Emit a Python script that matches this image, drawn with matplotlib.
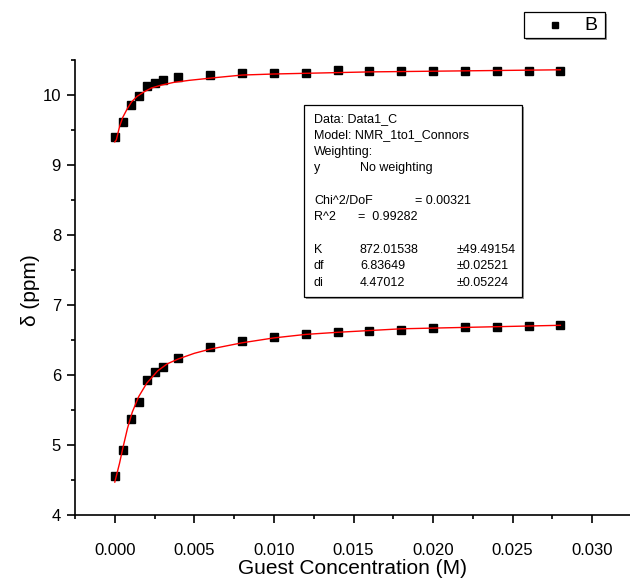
import matplotlib
matplotlib.use('Agg')
import matplotlib.pyplot as plt
from matplotlib.ticker import MultipleLocator, FormatStrFormatter
from matplotlib.patches import Rectangle
from matplotlib.lines import Line2D

plt.rcParams['font.family'] = ['Liberation Sans', 'DejaVu Sans']

# ---- data ----
conc = [0.0, 0.0005, 0.001, 0.0015, 0.002, 0.0025, 0.003, 0.004, 0.006, 0.008,
        0.010, 0.012, 0.014, 0.016, 0.018, 0.020, 0.022, 0.024, 0.026, 0.028]
shift_upper = [9.40, 9.61, 9.86, 9.98, 10.13, 10.17, 10.21, 10.26, 10.29, 10.31,
               10.32, 10.32, 10.36, 10.34, 10.34, 10.34, 10.34, 10.34, 10.35, 10.35]
shift_lower = [4.56, 4.93, 5.37, 5.62, 5.93, 6.04, 6.12, 6.24, 6.40, 6.48,
               6.54, 6.58, 6.61, 6.63, 6.65, 6.67, 6.68, 6.69, 6.70, 6.71]

# fitted curves
fit_x_upper = [0.0, 0.0001, 0.0003, 0.0005, 0.0008, 0.00105, 0.0014, 0.0018, 0.0023,
               0.0029, 0.0037, 0.0047, 0.0064, 0.008, 0.010, 0.012, 0.014, 0.016,
               0.020, 0.024, 0.028]
fit_y_upper = [9.33, 9.36, 9.55, 9.68, 9.81, 9.90, 9.98, 10.04, 10.10,
               10.14, 10.18, 10.21, 10.25, 10.285, 10.30, 10.31, 10.32, 10.33,
               10.34, 10.35, 10.36]
fit_x_lower = [0.0, 0.0003, 0.0005, 0.0008, 0.0011, 0.0015, 0.002, 0.0027, 0.0033,
               0.004, 0.005, 0.006, 0.008, 0.010, 0.012, 0.014, 0.018, 0.022, 0.028]
fit_y_lower = [4.47, 4.74, 4.95, 5.24, 5.47, 5.69, 5.88, 6.06, 6.16,
               6.23, 6.31, 6.37, 6.46, 6.53, 6.58, 6.61, 6.66, 6.68, 6.71]

x_ticks = [0.000, 0.005, 0.010, 0.015, 0.020, 0.025, 0.030]
y_ticks = [4, 5, 6, 7, 8, 9, 10]

box_lines = [
    ("Data: Data1_C", "", ""),
    ("Model: NMR_1to1_Connors", "", ""),
    ("Weighting:", "", ""),
    ("y", "No weighting", ""),
    ("", "", ""),
    ("Chi^2/DoF", "", "= 0.00321"),
    ("R^2", "=  0.99282", ""),
    ("", "", ""),
    ("K", "872.01538", "\u00b149.49154"),
    ("df", "6.83649", "\u00b10.02521"),
    ("di", "4.47012", "\u00b10.05224"),
]

W, H = 630, 582
fig = plt.figure(figsize=(W / 100, H / 100), dpi=100)

def fx(px):
    return px / W

def fy(py):
    return 1 - py / H

ax = fig.add_axes([fx(75), fy(515), (632 - 75) / W, (515 - 60) / H])
ax.set_xlim(-0.0025, 0.0325)
ax.set_ylim(4, 10.5)

ax.plot(conc, shift_upper, 's', color='black', ms=5.5, zorder=2)
ax.plot(conc, shift_lower, 's', color='black', ms=5.5, zorder=2)
ax.plot(fit_x_upper, fit_y_upper, '-', color='red', lw=1.0, zorder=3)
ax.plot(fit_x_lower, fit_y_lower, '-', color='red', lw=1.0, zorder=3)

for s in ['top', 'right']:
    ax.spines[s].set_visible(False)
for s in ['left', 'bottom']:
    ax.spines[s].set_linewidth(1.2)

ax.set_xticks(x_ticks)
ax.set_yticks(y_ticks)
ax.xaxis.set_major_formatter(FormatStrFormatter('%.3f'))
ax.xaxis.set_minor_locator(MultipleLocator(0.0025))
ax.yaxis.set_minor_locator(MultipleLocator(0.5))
ax.tick_params(which='major', direction='out', length=6, width=1.2, labelsize=12)
ax.tick_params(which='minor', direction='out', length=3, width=1.2)
ax.tick_params(axis='x', which='major', pad=14)
ax.tick_params(axis='y', which='major', pad=4)

fig.text(fx(353), fy(568), "Guest Concentration (M)", ha='center', va='center', fontsize=15)
fig.text(fx(30), fy(290), "\u03b4 (ppm)", ha='center', va='center', fontsize=15, rotation=90)

# fit results box
fig.patches.append(Rectangle((fx(306), fy(299)), (522 - 304) / W, (297 - 105) / H,
                             transform=fig.transFigure, facecolor='#999999',
                             edgecolor='none', zorder=4))
fig.patches.append(Rectangle((fx(304), fy(297)), (522 - 304) / W, (297 - 105) / H,
                             transform=fig.transFigure, facecolor='white',
                             edgecolor='black', lw=0.9, zorder=5))
line_y = [119, 135.5, 152, 168, 184.5, 201, 217, 233.5, 250, 266.5, 283]
for (c1, c2, c3), py in zip(box_lines, line_y):
    if c1:
        fig.text(fx(314), fy(py), c1, ha='left', va='center', fontsize=9, zorder=6)
    if c2:
        x2 = 358 if c2.startswith('=') else 360
        fig.text(fx(x2), fy(py), c2, ha='left', va='center', fontsize=9, zorder=6)
    if c3:
        x3 = 415 if c3.startswith('=') else 457
        fig.text(fx(x3), fy(py), c3, ha='left', va='center', fontsize=9, zorder=6)

# legend box
fig.patches.append(Rectangle((fx(525.5), fy(39.5)), (605 - 524) / W, (38 - 12) / H,
                             transform=fig.transFigure, facecolor='#999999',
                             edgecolor='none', zorder=4))
fig.patches.append(Rectangle((fx(524), fy(38)), (605 - 524) / W, (38 - 12) / H,
                             transform=fig.transFigure, facecolor='white',
                             edgecolor='black', lw=0.9, zorder=5))
fig.lines.append(Line2D([fx(555)], [fy(25)], marker='s', ms=4, color='black',
                        transform=fig.transFigure, zorder=6))
fig.text(fx(591), fy(25), "B", ha='center', va='center', fontsize=14, zorder=6)

fig.savefig('out.png', dpi=100)
